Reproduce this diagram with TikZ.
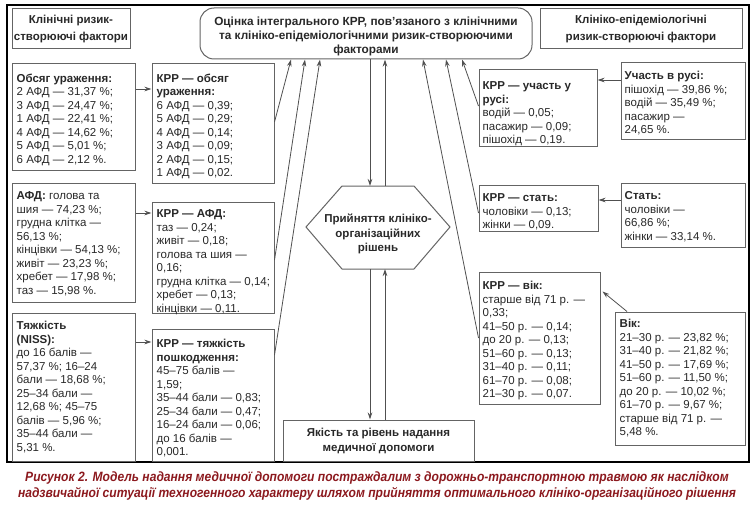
\documentclass[tikz,border=0pt]{standalone}
\usepackage{fontspec}
\setmainfont{Liberation Sans}
\newfontfamily\capfont{Liberation Sans}[FakeStretch=0.895]
\usetikzlibrary{arrows.meta,calc,fit}
\definecolor{ln}{RGB}{100,100,100}
\definecolor{tx}{RGB}{40,40,40}
\definecolor{capred}{RGB}{140,25,30}
\newcommand\fl{\rule{0pt}{9pt}}
\begin{document}
\begin{tikzpicture}[x=1pt,y=-1pt,
  box/.style={draw=ln, line width=1pt, inner sep=0pt},
  txt/.style={anchor=north west, align=left, inner sep=0pt, text=tx,
    font=\fontsize{11.5}{13.5}\selectfont},
  ttl/.style={align=center, inner sep=0pt, text=tx,
    font=\bfseries\fontsize{11.5}{14.5}\selectfont},
  arr/.style={draw=ln!80!black, line width=0.8pt, -{Stealth[length=7pt,width=4.5pt]}}]
\useasboundingbox (0,0) rectangle (754,513);
% outer frame
\draw[line width=1.2pt] (7,5) rectangle (749,462);
% top titles
\node[box, fit={(12,9)(130,49)}] (t1) {};
\node[ttl, font=\bfseries\fontsize{11.5}{17}\selectfont] (t1t) at ($(t1.center)+(0,0.5)$) {Клінічні ризик-\\створюючі фактори};
\node[box, rounded corners=14pt, fit={(200,8)(532,59)}] (top) {};
\node[ttl, font=\bfseries\fontsize{11.8}{14}\selectfont] (topt) at ($(top.center)+(0,2.5)$) {Оцінка інтегрального КРР, пов’язаного з клінічними\\та клініко-епідеміологічними ризик-створюючими\\факторами};
\node[box, fit={(540,9)(742,49)}] (t2) {};
\node[ttl, font=\bfseries\fontsize{11.5}{17}\selectfont] (t2t) at ($(t2.center)+(0,0.5)$) {Клініко-епідеміологічні\\ризик-створюючі фактори};
% left column
\node[box, fit={(12,64)(135,171)}] (A1) {};
\node[txt] (A1t) at ($(A1.north west)+(5,9.5)$) {\fl\textbf{Обсяг ураження:}\\2 АФД — 31,37 \%;\\3 АФД — 24,47 \%;\\1 АФД — 22,41 \%;\\4 АФД — 14,62 \%;\\5 АФД — 5,01 \%;\\6 АФД — 2,12 \%.};
\node[box, fit={(152,64)(274,183)}] (B1) {};
\node[txt] (B1t) at ($(B1.north west)+(5,9.5)$) {\fl\textbf{КРР — обсяг}\\\textbf{ураження:}\\6 АФД — 0,39;\\5 АФД — 0,29;\\4 АФД — 0,14;\\3 АФД — 0,09;\\2 АФД — 0,15;\\1 АФД — 0,02.};
\node[box, fit={(12,183)(135,302)}] (A2) {};
\node[txt] (A2t) at ($(A2.north west)+(5,8)$) {\fl\textbf{АФД:} голова та\\шия — 74,23 \%;\\грудна клітка —\\56,13 \%;\\кінцівки — 54,13 \%;\\живіт — 23,23 \%;\\хребет — 17,98 \%;\\таз — 15,98 \%.};
\node[box, fit={(152,202)(274,313)}] (B2) {};
\node[txt] (B2t) at ($(B2.north west)+(5,7)$) {\fl\textbf{КРР — АФД:}\\таз — 0,24;\\живіт — 0,18;\\голова та шия —\\0,16;\\грудна клітка — 0,14;\\хребет — 0,13;\\кінцівки — 0,11.};
\node[box, fit={(12,313)(135,461)}] (A3) {};
\node[txt] (A3t) at ($(A3.north west)+(5,8)$) {\fl\textbf{Тяжкість}\\\textbf{(NISS):}\\до 16 балів —\\57,37 \%; 16–24\\бали — 18,68 \%;\\25–34 бали —\\12,68 \%; 45–75\\балів — 5,96 \%;\\35–44 бали —\\5,31 \%.};
\node[box, fit={(152,329)(274,461)}] (B3) {};
\node[txt] (B3t) at ($(B3.north west)+(5,10)$) {\fl\textbf{КРР — тяжкість}\\\textbf{пошкодження:}\\45–75 балів —\\1,59;\\35–44 бали — 0,83;\\25–34 бали — 0,47;\\16–24 бали — 0,06;\\до 16 балів —\\0,001.};
% right column
\node[box, fit={(479,70)(597,147)}] (R1) {};
\node[txt] (R1t) at ($(R1.north west)+(4,11)$) {\fl\textbf{КРР — участь у}\\\textbf{русі:}\\водій — 0,05;\\пасажир — 0,09;\\пішохід — 0,19.};
\node[box, fit={(621,63)(745,140)}] (S1) {};
\node[txt] (S1t) at ($(S1.north west)+(4,8)$) {\fl\textbf{Участь в русі:}\\пішохід — 39,86 \%;\\водій — 35,49 \%;\\пасажир —\\24,65 \%.};
\node[box, fit={(479,185)(598,231)}] (R2) {};
\node[txt] (R2t) at ($(R2.north west)+(4,8)$) {\fl\textbf{КРР — стать:}\\чоловіки — 0,13;\\жінки — 0,09.};
\node[box, fit={(621,183)(745,247)}] (S2) {};
\node[txt] (S2t) at ($(S2.north west)+(4,8)$) {\fl\textbf{Стать:}\\чоловіки —\\66,86 \%;\\жінки — 33,14 \%.};
\node[box, fit={(479,272)(600,404)}] (R3) {};
\node[txt] (R3t) at ($(R3.north west)+(4,9)$) {\fl\textbf{КРР — вік:}\\старше від 71 р. —\\0,33;\\41–50 р. — 0,14;\\до 20 р. — 0,13;\\51–60 р. — 0,13;\\31–40 р. — 0,11;\\61–70 р. — 0,08;\\21–30 р. — 0,07.};
\node[box, fit={(615,312)(745,445)}] (S3) {};
\node[txt] (S3t) at ($(S3.north west)+(5,7)$) {\fl\textbf{Вік:}\\21–30 р. — 23,82 \%;\\31–40 р. — 21,82 \%;\\41–50 р. — 17,69 \%;\\51–60 р. — 11,50 \%;\\до 20 р. — 10,02 \%;\\61–70 р. — 9,67 \%;\\старше від 71 р. —\\5,48 \%.};
% hexagon
\coordinate (hL) at (306,227);
\coordinate (hTL) at (342,186);
\coordinate (hTR) at (414,186);
\coordinate (hR) at (450,227);
\coordinate (hBR) at (414,269);
\coordinate (hBL) at (342,269);
\draw[box] (hL) -- (hTL) -- (hTR) -- (hR) -- (hBR) -- (hBL) -- cycle;
\node[ttl] (hex) at (378,234) {Прийняття клініко-\\організаційних\\рішень};
\coordinate (hT1) at (370,186);
\coordinate (hT2) at (385,186);
\coordinate (hB1) at (370,269);
\coordinate (hB2) at (385,269);
% quality box
\node[box, fit={(283,420)(474,461)}] (Q) {};
\node[ttl] (Qt) at ($(Q.center)+(0,0.5)$) {Якість та рівень надання\\медичної допомоги};
% vertical arrows
\draw[arr] (top.south -| hT1) -- (hT1);
\draw[arr] (hT2) -- (top.south -| hT2);
\draw[arr] (hB1) -- (Q.north -| hB1);
\draw[arr] (Q.north -| hB2) -- (hB2);
% diagonal arrows to top box
\draw[arr] (B1.east |- 0,122) -- (top.south -| 291,0);
\draw[arr] (B2.east |- 0,260) -- (top.south -| 305,0);
\draw[arr] (B3.east |- 0,355) -- (top.south -| 320,0);
\draw[arr] (R1.west |- 0,106) -- (top.south -| 462,0);
\draw[arr] (R2.west |- 0,213) -- (top.south -| 446,0);
\draw[arr] (R3.west |- 0,338) -- (top.south -| 423,0);
% horizontal arrows
\draw[arr] (A1.east |- 0,89) -- (B1.west |- 0,89);
\draw[arr] (A2.east |- 0,213) -- (B2.west |- 0,213);
\draw[arr] (A3.east |- 0,342) -- (B3.west |- 0,342);
\draw[arr] (S1.west |- 0,80) -- (R1.east |- 0,80);
\draw[arr] (S2.west |- 0,200) -- (R2.east |- 0,200);
\draw[arr] (S3.north -| 627,0) -- ($(R3.north east)+(2,20)$);
% caption
\node[align=center, inner sep=0pt, text=capred, font=\capfont\bfseries\itshape\fontsize{13.5}{16}\selectfont] (cap) at (377,486) {Рисунок 2. Модель надання медичної допомоги постраждалим з дорожньо-транспортною травмою як наслідком\\надзвичайної ситуації техногенного характеру шляхом прийняття оптимального клініко-організаційного рішення};
\end{tikzpicture}
\end{document}
